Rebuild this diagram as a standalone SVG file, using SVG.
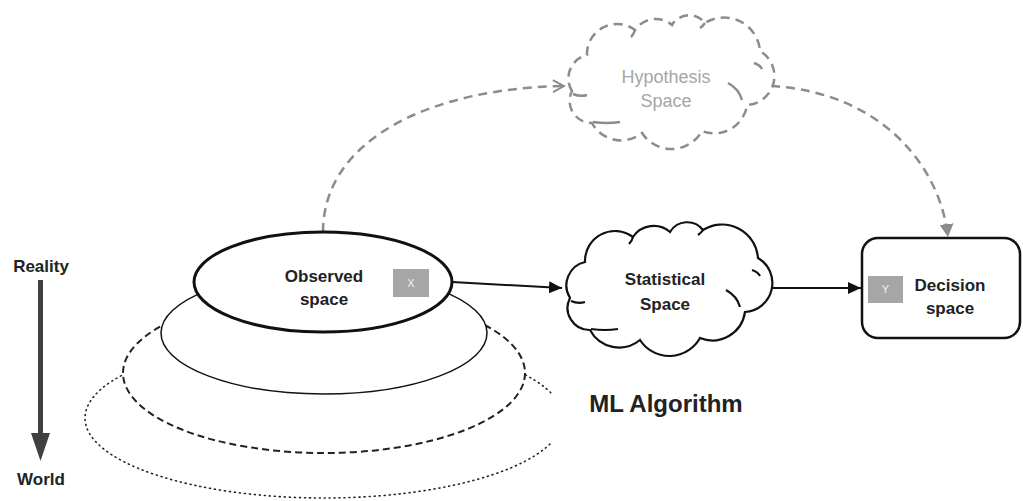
<svg xmlns="http://www.w3.org/2000/svg" width="1023" height="501" viewBox="0 0 1023 501">
  <style>
    .lbl { font-family: "Liberation Sans", Arial, sans-serif; font-weight: bold; font-size: 17px; fill: #222; text-anchor: middle; }
    .title { font-family: "Liberation Sans", Arial, sans-serif; font-weight: bold; font-size: 24px; fill: #222; text-anchor: middle; }
    .hyp { font-family: "Liberation Sans", Arial, sans-serif; font-size: 18px; fill: #a6a6a6; text-anchor: middle; }
    .tag { fill: #a6a6a6; }
    .tagtxt { font-family: "Liberation Sans", Arial, sans-serif; font-size: 11px; fill: #f2f2f2; text-anchor: middle; }
    .solid { fill: none; stroke: #111; stroke-width: 2; }
    .ghost { fill: none; stroke: #8c8c8c; stroke-width: 2.5; stroke-dasharray: 9 6; }
  </style>
  <defs>
    <!-- bumpy cloud outline shared by both cloud nodes -->
    <path id="cloud" d="M570 298 A24 24 0 0 1 585 262 A30 30 0 0 1 633 237 A25 25 0 0 1 670 232 A20 20 0 0 1 703 230 A36 36 0 0 1 758 258 A29 29 0 0 1 745 312 A33 33 0 0 1 700 338 A35 35 0 0 1 640 340 A33 33 0 0 1 590 330 A22 22 0 0 1 570 298 Z"/>
    <path id="cloudInner" d="M571 301 q7 3 14 1 M591 329 q14 2 27 0 M726 290 q11 6 14 17 M752 270 q6 2 8 6 M633 237 q-1 4 -4 7 M703 230 q-2 3 -5 5"/>
    <marker id="arrowBlack" markerUnits="userSpaceOnUse" markerWidth="14" markerHeight="12" refX="13" refY="6" orient="auto">
      <path d="M0 0 L13 6 L0 12 Z" fill="#111"/>
    </marker>
    <marker id="arrowGrey" markerUnits="userSpaceOnUse" markerWidth="14" markerHeight="14" refX="13" refY="7" orient="auto">
      <path d="M0 0 L13 7 L0 14 Z" fill="#8c8c8c"/>
    </marker>
    <marker id="arrowGreyOpen" markerUnits="userSpaceOnUse" markerWidth="14" markerHeight="14" refX="12" refY="7" orient="auto">
      <path d="M1 1 L12 7 L1 13" fill="none" stroke="#8c8c8c" stroke-width="2"/>
    </marker>
    <clipPath id="cropRight">
      <rect x="0" y="0" width="552" height="501"/>
    </clipPath>
  </defs>

  <rect width="1023" height="501" fill="#ffffff"/>

  <!-- Reality to World scale -->
  <g id="scale">
    <text class="lbl" x="41" y="272">Reality</text>
    <rect x="38" y="280" width="5" height="155" fill="#404040"/>
    <polygon points="31,433 50,433 40.5,461" fill="#404040"/>
    <text class="lbl" x="41" y="485">World</text>
  </g>

  <!-- nested layers under the observed space -->
  <g id="world-layer">
    <ellipse cx="324" cy="418" rx="239" ry="80" fill="none" stroke="#222" stroke-width="1.6" stroke-dasharray="1 4" stroke-linecap="round" clip-path="url(#cropRight)"/>
  </g>
  <g id="middle-layer">
    <ellipse cx="324" cy="373" rx="201" ry="80" fill="#fff" stroke="#222" stroke-width="2" stroke-dasharray="7 4"/>
  </g>
  <g id="reality-layer">
    <ellipse cx="324" cy="333" rx="163" ry="61" fill="#fff" stroke="#111" stroke-width="1.5"/>
  </g>

  <!-- connectors -->
  <g id="connectors">
    <path class="ghost" d="M323 232 C323 140 430 88 564 86" marker-end="url(#arrowGreyOpen)"/>
    <path class="ghost" d="M771 86 C880 92 940 165 948 237" marker-end="url(#arrowGrey)"/>
    <line class="solid" x1="452" y1="282" x2="562" y2="288" marker-end="url(#arrowBlack)"/>
    <line class="solid" x1="772" y1="288" x2="861" y2="288" marker-end="url(#arrowBlack)"/>
  </g>

  <g id="observed-space">
    <ellipse cx="323" cy="282" rx="129" ry="50" fill="#fff" stroke="#111" stroke-width="3"/>
    <text class="lbl" x="324" y="282">Observed</text>
    <text class="lbl" x="324" y="305">space</text>
    <rect class="tag" x="393" y="269" width="36" height="28"/>
    <text class="tagtxt" x="411" y="287">X</text>
  </g>

  <g id="hypothesis-space">
    <g transform="translate(2,-207)">
      <use href="#cloud" fill="#fff" stroke="#8c8c8c" stroke-width="2.5" stroke-dasharray="9 6"/>
      <use href="#cloudInner" fill="none" stroke="#8c8c8c" stroke-width="2.5"/>
    </g>
    <text class="hyp" x="666" y="83">Hypothesis</text>
    <text class="hyp" x="666" y="107">Space</text>
  </g>

  <g id="statistical-space">
    <use href="#cloud" fill="#fff" stroke="#111" stroke-width="2.2"/>
    <use href="#cloudInner" fill="none" stroke="#111" stroke-width="2.2"/>
    <text class="lbl" x="665" y="285">Statistical</text>
    <text class="lbl" x="665" y="310">Space</text>
  </g>

  <g id="decision-space">
    <rect x="862" y="238" width="158" height="100" rx="16" fill="#fff" stroke="#111" stroke-width="2.5"/>
    <rect class="tag" x="868" y="276" width="35" height="27"/>
    <text class="tagtxt" x="885.5" y="293">Y</text>
    <text class="lbl" x="950" y="291">Decision</text>
    <text class="lbl" x="950" y="314">space</text>
  </g>

  <g id="ml-algorithm">
    <text class="title" x="666" y="412">ML Algorithm</text>
  </g>
</svg>
